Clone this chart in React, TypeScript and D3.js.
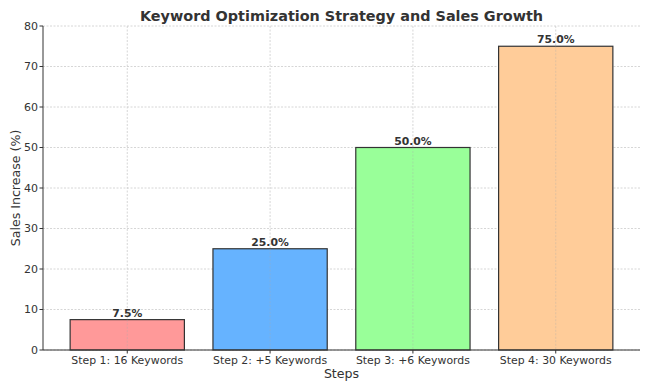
import React from "react";
import * as d3 from "d3";

const categories = ["Step 1: 16 Keywords", "Step 2: +5 Keywords", "Step 3: +6 Keywords", "Step 4: 30 Keywords"];
const values = [7.5, 25, 50, 75];
const colors = ["#ff9999", "#66b3ff", "#99ff99", "#ffcc99"];
const yTicks = [0, 10, 20, 30, 40, 50, 60, 70, 80];

const W = 650, H = 390;
const left = 43, right = 640, top = 26, bottom = 350;
const font = "'DejaVu Sans', sans-serif";
const textColor = "#333333";

export default function App() {
  const x = d3.scaleLinear().domain([-0.59, categories.length - 1 + 0.59]).range([left, right]);
  const y = d3.scaleLinear().domain([0, 80]).range([bottom, top]);
  const bw = x(0.4) - x(-0.4);
  return (
    <svg width={W} height={H} style={{ position: "absolute", left: 0, top: 0 }} fontFamily={font}>
      <rect width={W} height={H} fill="#fff" />
      {yTicks.map((t) => (
        <line key={"gy" + t} x1={left} x2={right} y1={y(t)} y2={y(t)} stroke="#cccccc" strokeWidth={0.8} strokeDasharray="2,1.5" />
      ))}
      {categories.map((c, i) => (
        <line key={"gx" + i} x1={x(i)} x2={x(i)} y1={top} y2={bottom} stroke="#cccccc" strokeWidth={0.8} strokeDasharray="2,1.5" />
      ))}
      {values.map((v, i) => (
        <g key={"b" + i}>
          <rect x={x(i) - bw / 2} y={y(v)} width={bw} height={y(0) - y(v)} fill={colors[i]} stroke="#333333" strokeWidth={1.2} />
          <line x1={x(i)} x2={x(i)} y1={y(v)} y2={bottom} stroke="#aaaaaa" strokeOpacity={0.45} strokeWidth={0.8} strokeDasharray="2,1.5" />
          <text x={x(i)} y={y(v) - 3} textAnchor="middle" fontSize={10.8} fontWeight="bold" fill={textColor}>
            {v.toFixed(1) + "%"}
          </text>
        </g>
      ))}
      <line x1={left} x2={left} y1={top} y2={bottom} stroke="#333" strokeWidth={1} />
      <line x1={left} x2={right} y1={bottom} y2={bottom} stroke="#333" strokeWidth={1} />
      {yTicks.map((t) => (
        <g key={"ty" + t}>
          <line x1={left - 3.5} x2={left} y1={y(t)} y2={y(t)} stroke="#333" />
          <text x={left - 5} y={y(t)} dy="0.36em" textAnchor="end" fontSize={11} fill={textColor}>{t}</text>
        </g>
      ))}
      {categories.map((c, i) => (
        <g key={"tx" + i}>
          <line x1={x(i)} x2={x(i)} y1={bottom} y2={bottom + 3.5} stroke="#333" />
          <text x={x(i)} y={bottom + 5.5} dy="0.76em" textAnchor="middle" fontSize={10.9} fill={textColor}>{c}</text>
        </g>
      ))}
      <text x={(left + right) / 2} y={377.5} textAnchor="middle" fontSize={12.6} fill={textColor}>Steps</text>
      <text transform={`translate(19.5,${(top + bottom) / 2}) rotate(-90)`} textAnchor="middle" fontSize={12.6} fill={textColor}>Sales Increase (%)</text>
      <text x={(left + right) / 2} y={20.7} textAnchor="middle" fontSize={14.4} fontWeight="bold" fill={textColor}>Keyword Optimization Strategy and Sales Growth</text>
    </svg>
  );
}
